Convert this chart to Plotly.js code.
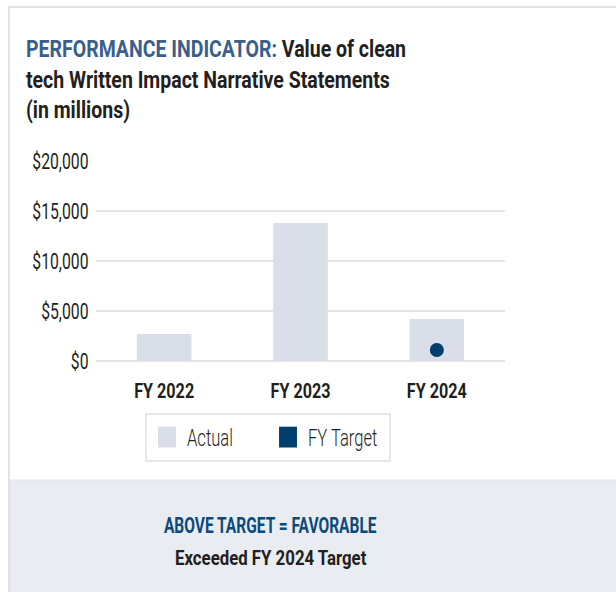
<!DOCTYPE html>
<html>
<head>
<meta charset="utf-8">
<script src="https://cdn.plot.ly/plotly-3.0.1.min.js"></script>
<style>
  html, body { margin: 0; padding: 0; background: #ffffff; }
  #chart { width: 616px; height: 592px; }
</style>
</head>
<body>
<div id="chart"></div>
<script>
// ---- Data ----
const categories = ["FY 2022", "FY 2023", "FY 2024"];
const actualValues = [2700, 13800, 4200];
const targetCategories = ["FY 2024"];
const targetValues = [1100];
const yTickValues = [0, 5000, 10000, 15000, 20000];
const yTickLabels = ["$0", "$5,000", "$10,000", "$15,000", "$20,000"];
const seriesNames = ["Actual", "FY Target"];

const FONT = "Roboto, 'Liberation Sans', sans-serif";
const ACTUAL_COLOR = "#d9dee8";
const TARGET_COLOR = "#003f6e";

// plot area geometry (px) used to convert card decorations into paper coords
const W = 616, H = 592;
const M = { l: 96, r: 111, t: 161, b: 231 };
const PW = W - M.l - M.r, PH = H - M.t - M.b;
const px = x => (x - M.l) / PW;
const py = y => (H - M.b - y) / PH;

const traces = [
  {
    type: "bar",
    x: categories,
    y: actualValues,
    name: seriesNames[0],
    marker: { color: ACTUAL_COLOR },
    width: 0.4,
    showlegend: false
  },
  {
    type: "scatter",
    mode: "markers",
    x: targetCategories,
    y: targetValues,
    name: seriesNames[1],
    marker: { color: TARGET_COLOR, size: 14, symbol: "circle" },
    showlegend: false
  },
  // legend entries (square swatches as in the reference)
  {
    type: "scatter", mode: "markers", x: [null], y: [null],
    name: seriesNames[0],
    marker: { color: ACTUAL_COLOR, size: 16, symbol: "square" }
  },
  {
    type: "scatter", mode: "markers", x: [null], y: [null],
    name: seriesNames[1],
    marker: { color: TARGET_COLOR, size: 16, symbol: "square" }
  }
];

const layout = {
  width: W, height: H,
  margin: M,
  paper_bgcolor: "#ffffff",
  plot_bgcolor: "#ffffff",
  showlegend: true,
  title: {
    text: "<span style='color:#3a5f8b'>PERFORMANCE INDICATOR:</span> Value of clean<br>tech Written Impact Narrative Statements<br>(in millions)",
    font: { family: FONT, size: 23.5, color: "#231f20", weight: 700 },
    x: 26 / W, xanchor: "left", xref: "container",
    y: 1 - 57 / H, yanchor: "top", yref: "container"
  },
  xaxis: {
    type: "category",
    categoryorder: "array",
    categoryarray: categories,
    showgrid: false, zeroline: false, showline: false,
    ticks: "outside", ticklen: 11, tickcolor: "rgba(0,0,0,0)",
    tickfont: { family: FONT, size: 21, color: "#231f20", weight: 700 },
    fixedrange: true
  },
  yaxis: {
    range: [0, 20000],
    tickvals: yTickValues,
    ticktext: yTickLabels,
    showgrid: true, gridcolor: "#e6e6e6", gridwidth: 2,
    zeroline: true, zerolinecolor: "#e6e6e6", zerolinewidth: 2,
    showline: false,
    ticks: "outside", ticklen: 2, tickcolor: "rgba(0,0,0,0)",
    tickfont: { family: FONT, size: 22.5, color: "#231f20" },
    fixedrange: true
  },
  legend: {
    orientation: "h",
    x: px(145), xanchor: "left",
    y: py(413), yanchor: "top",
    bordercolor: "#e8e8e8", borderwidth: 2,
    bgcolor: "#ffffff",
    font: { family: FONT, size: 24, color: "#231f20", weight: 300 },
    entrywidth: 76, entrywidthmode: "pixels",
    itemclick: false, itemdoubleclick: false
  },
  shapes: [
    // card border
    { type: "rect", xref: "paper", yref: "paper", layer: "below",
      x0: px(9), x1: px(640), y0: py(7), y1: py(620),
      line: { color: "#e3e3e3", width: 2 }, fillcolor: "rgba(0,0,0,0)" },
    // bottom status panel
    { type: "rect", xref: "paper", yref: "paper", layer: "below",
      x0: px(10), x1: px(640), y0: py(480), y1: py(620),
      line: { color: "#dfe2e6", width: 1 }, fillcolor: "#e9ecf1" }
  ],
  annotations: [
    { xref: "paper", yref: "paper", x: px(270), y: py(525),
      xanchor: "center", yanchor: "middle", showarrow: false,
      text: "ABOVE TARGET = FAVORABLE",
      font: { family: FONT, size: 22.5, color: "#0b4a7a", weight: 700 } },
    { xref: "paper", yref: "paper", x: px(270), y: py(558),
      xanchor: "center", yanchor: "middle", showarrow: false,
      text: "Exceeded FY 2024 Target",
      font: { family: FONT, size: 21, color: "#231f20", weight: 700 } }
  ]
};

// Horizontally condense text (reference uses a condensed typeface), scaling about each text's anchor x
function condense(root, selector, s) {
  root.querySelectorAll(selector).forEach(t => {
    const x = parseFloat(t.getAttribute("x")) || 0;
    const prev = t.getAttribute("transform") || "";
    t.setAttribute("transform", prev + " translate(" + x + ",0) scale(" + s + ",1) translate(" + (-x) + ",0)");
  });
}

Plotly.newPlot("chart", traces, layout, { displayModeBar: false, staticPlot: true }).then(gd => {
  condense(gd, "text.gtitle", 0.83);
  condense(gd, ".xtick text", 0.77);
  condense(gd, ".ytick text", 0.70);
  condense(gd, "text.legendtext", 0.69);
  const ann = gd.querySelectorAll("text.annotation-text");
  if (ann[0]) condense(ann[0].parentNode, "text.annotation-text", 0.69);
  if (ann[1]) condense(ann[1].parentNode, "text.annotation-text", 0.80);
  gd.querySelectorAll(".legendpoints path").forEach(p => {
    const prev = p.getAttribute("transform") || "";
    p.setAttribute("transform", prev + " scale(1.12,1.3)");
  });
});
</script>
</body>
</html>
